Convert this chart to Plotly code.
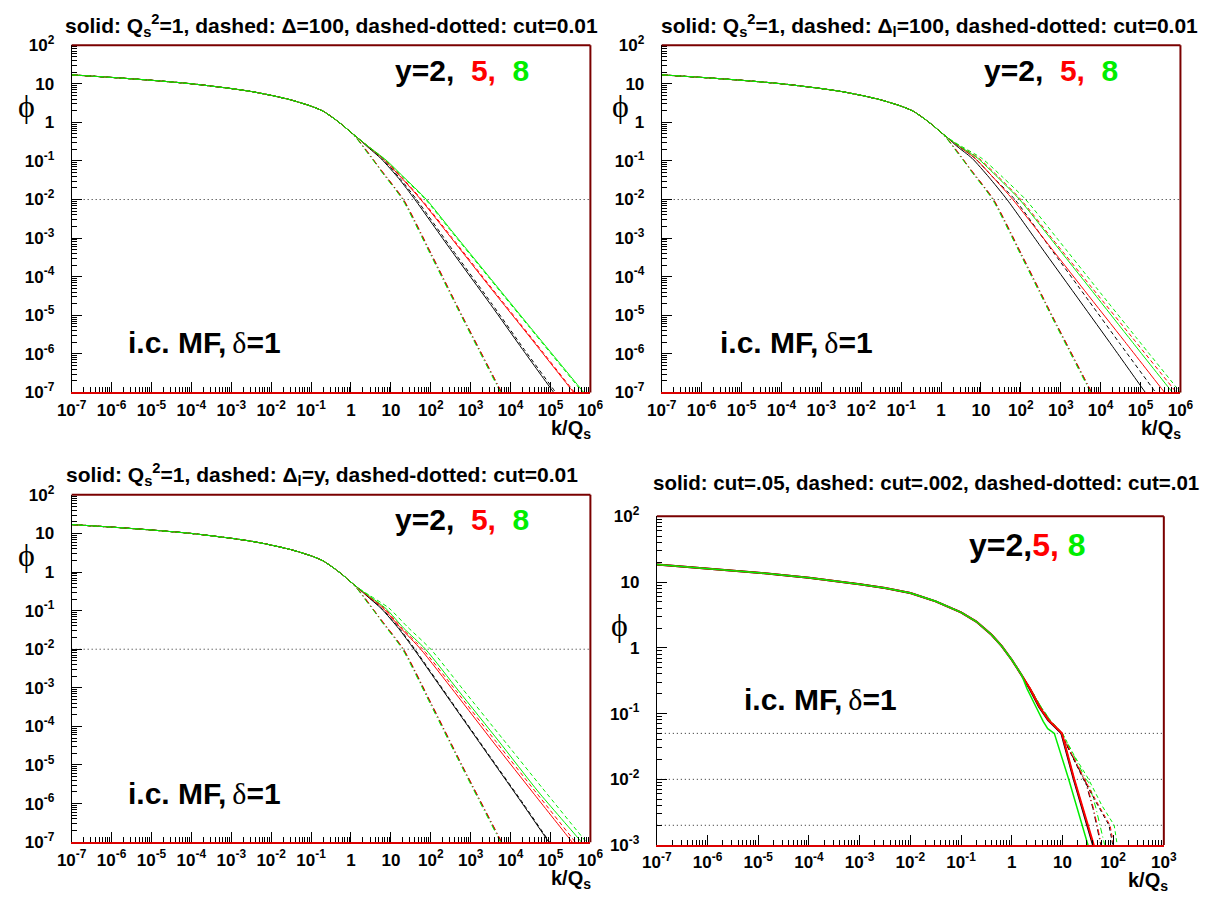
import plotly.graph_objects as go

W, H = 1212, 898

# ---------------- data ----------------
# common low-k part, panels 1-3
k_low = [1e-7, 1e-6, 1e-5, 1e-4, 1e-3, 3.16e-3, 1e-2, 0.0316, 0.1, 0.2, 0.4, 0.63, 1.0]
phi_low = [17.0, 14.6, 12.3, 10.0, 7.5, 6.3, 5.0, 3.8, 2.63, 1.95, 1.2, 0.83, 0.55]

# panel 1 tails
p1_blk_s_k = [1.58, 2.5, 5.8, 15.8, 40, 316, 3160, 2.0e4, 1.2e5, 2.0e5]
p1_blk_s_phi = [0.37, 0.24, 0.112, 0.035, 0.01, 5.0e-4, 1.9e-5, 1.3e-6, 1.0e-7, 4.8e-8]
p1_blk_d_k = [1.6, 2.6, 6.2, 17, 44, 350, 3500, 2.2e4, 1.35e5, 2.2e5]
p1_blk_d_phi = [0.37, 0.24, 0.112, 0.035, 0.01, 5.0e-4, 1.9e-5, 1.3e-6, 1.0e-7, 4.8e-8]
p1_red_s_k = [1.58, 2.5, 6.3, 17.8, 56, 316, 3160, 3.16e4, 3.8e5, 6.3e5]
p1_red_s_phi = [0.37, 0.25, 0.115, 0.038, 0.01, 1.05e-3, 5.1e-5, 2.6e-6, 1e-7, 5.1e-8]
p1_red_d_k = [1.6, 2.6, 6.6, 18.6, 59, 335, 3350, 3.35e4, 4.0e5, 6.6e5]
p1_red_d_phi = [0.37, 0.25, 0.115, 0.038, 0.01, 1.05e-3, 5.1e-5, 2.6e-6, 1e-7, 5.1e-8]
p1_grn_s_k = [1.6, 2.7, 7.6, 20, 78, 316, 3160, 3.16e4, 6.8e5, 1.12e6]
p1_grn_s_phi = [0.37, 0.24, 0.105, 0.04, 0.01, 1.66e-3, 8.9e-5, 4.8e-6, 1e-7, 5.2e-8]
p1_grn_d_k = [1.6, 2.65, 7.3, 19, 74, 300, 3000, 3.0e4, 6.4e5, 1.05e6]
p1_grn_d_phi = [0.37, 0.24, 0.105, 0.04, 0.01, 1.66e-3, 8.9e-5, 4.8e-6, 1e-7, 5.2e-8]
# dashed-dotted (cut = 0.01), shared by panels 1-3
dd_blk_k = [1.58, 2.5, 4.0, 6.3, 20.4, 100, 630, 5900, 8900]
dd_red_k = [1.6, 2.55, 4.05, 6.4, 20.8, 102, 640, 6000, 9000]
dd_grn_k = [1.55, 2.4, 3.9, 6.0, 19.5, 95, 600, 5600, 8500]
dd_phi = [0.33, 0.178, 0.093, 0.05, 0.01, 4.0e-4, 8.9e-6, 1e-7, 4.5e-8]

# panel 2 tails
p2_blk_s_k = [1.58, 2.5, 6.0, 15.8, 45, 316, 3160, 2.0e4, 1.32e5, 2.24e5]
p2_blk_s_phi = [0.37, 0.24, 0.117, 0.038, 0.01, 6.0e-4, 2.2e-5, 1.55e-6, 1e-7, 4.7e-8]
p2_blk_d_k = [1.6, 2.63, 7.1, 20, 71, 500, 5000, 3.16e4, 2.4e5, 4.0e5]
p2_blk_d_phi = [0.37, 0.25, 0.117, 0.038, 0.01, 6.3e-4, 2.4e-5, 1.74e-6, 1e-7, 4.9e-8]
p2_red_s_k = [1.6, 2.63, 7.1, 20, 63, 400, 4000, 4.0e4, 4.0e5, 7.1e5]
p2_red_s_phi = [0.37, 0.25, 0.117, 0.038, 0.01, 8.9e-4, 4.3e-5, 2.1e-6, 1e-7, 4.7e-8]
p2_red_d_k = [1.62, 2.8, 8.9, 28, 100, 630, 6300, 6.3e4, 7.9e5, 1.26e6]
p2_red_d_phi = [0.37, 0.25, 0.117, 0.038, 0.01, 9.3e-4, 4.9e-5, 2.6e-6, 1e-7, 5.5e-8]
p2_grn_s_k = [1.6, 2.75, 8.3, 26, 93, 630, 6300, 6.3e4, 6.3e5, 1.12e6]
p2_grn_s_phi = [0.37, 0.25, 0.117, 0.038, 0.01, 8.3e-4, 4.1e-5, 2.0e-6, 1e-7, 4.7e-8]
p2_grn_d_k = [1.65, 3.0, 10.5, 35, 132, 800, 7900, 7.9e4, 1.0e6, 1.58e6]
p2_grn_d_phi = [0.37, 0.25, 0.117, 0.038, 0.01, 1.0e-3, 5.1e-5, 2.6e-6, 1e-7, 5.5e-8]

# panel 3 tails
p3_blk_s_k = [1.58, 2.5, 5.8, 15.8, 38, 316, 3160, 2.0e4, 9.1e4, 1.58e5]
p3_blk_s_phi = [0.37, 0.24, 0.112, 0.034, 0.01, 4.4e-4, 1.48e-5, 9.8e-7, 1e-7, 4.5e-8]
p3_blk_d_k = [1.6, 2.55, 6.0, 16.6, 40, 330, 3300, 2.1e4, 9.5e4, 1.65e5]
p3_blk_d_phi = [0.37, 0.24, 0.112, 0.034, 0.01, 4.4e-4, 1.48e-5, 9.8e-7, 1e-7, 4.5e-8]
p3_red_s_k = [1.58, 2.5, 6.3, 17.8, 56, 400, 4000, 4.0e4, 3.5e5, 6.3e5]
p3_red_s_phi = [0.37, 0.25, 0.117, 0.035, 0.01, 7.6e-4, 3.5e-5, 1.7e-6, 1e-7, 4.6e-8]
p3_red_d_k = [1.6, 2.63, 6.8, 19, 63, 450, 4500, 4.5e4, 4.2e5, 7.1e5]
p3_red_d_phi = [0.37, 0.25, 0.117, 0.035, 0.01, 7.9e-4, 3.8e-5, 1.86e-6, 1e-7, 5.0e-8]
p3_grn_s_k = [1.6, 2.7, 7.6, 21, 74, 500, 5000, 5.0e4, 6.0e5, 1.0e6]
p3_grn_s_phi = [0.37, 0.25, 0.112, 0.035, 0.01, 8.3e-4, 4.2e-5, 2.0e-6, 1e-7, 5.1e-8]
p3_grn_d_k = [1.62, 2.9, 8.9, 26, 100, 630, 6300, 6.3e4, 7.9e5, 1.26e6]
p3_grn_d_phi = [0.37, 0.25, 0.117, 0.038, 0.01, 9.3e-4, 4.8e-5, 2.5e-6, 1e-7, 5.5e-8]

# panel 4
k4_low = [1e-7, 1e-6, 1e-5, 1e-4, 1e-3, 3.16e-3, 1e-2, 0.0316, 0.1, 0.2, 0.4, 0.63, 1.0, 1.58]
phi4_low = [18.5, 16.2, 13.9, 11.6, 9.3, 8.1, 6.8, 5.1, 3.47, 2.51, 1.58, 1.07, 0.66, 0.38]
p4_blk_s_k = [2.24, 3.47, 5.25, 7.08, 8.5, 9.55, 16.6, 39.8, 50]
p4_red_s_k = [2.29, 3.55, 5.37, 7.24, 8.7, 9.77, 17.0, 41, 52]
p4_s_phi = [0.24, 0.126, 0.079, 0.063, 0.055, 0.05, 0.0102, 1.02e-3, 5.6e-4]
p4_grn_s_k = [2.0, 3.02, 4.17, 5.13, 6.03, 6.92, 13.2, 32.4, 39.8]
p4_grn_s_phi = [0.24, 0.126, 0.076, 0.059, 0.054, 0.05, 0.0102, 1.02e-3, 5.6e-4]
p4_blk_d_k = [2.29, 3.63, 5.62, 9.33, 15.8, 25.7, 50, 83, 98, 105]
p4_red_d_k = [2.34, 3.72, 5.75, 9.55, 16.2, 26.9, 52, 87, 102, 110]
p4_grn_d_k = [2.34, 3.8, 6.0, 10, 17.4, 32.4, 60, 105, 120, 129]
p4_d_phi = [0.24, 0.126, 0.076, 0.05, 0.0224, 0.0102, 0.004, 0.002, 1.02e-3, 7.1e-4]
p4_blk_dd_k = [2.29, 3.63, 5.62, 9.33, 15.8, 25.7, 28.8, 40, 57.5, 63]
p4_red_dd_k = [2.34, 3.72, 5.75, 9.55, 16.2, 26.3, 29.5, 41, 59, 65]
p4_grn_dd_k = [2.34, 3.8, 6.0, 10, 17.4, 28.8, 33, 46, 67.6, 74]
p4_dd_phi = [0.24, 0.126, 0.076, 0.05, 0.0224, 0.0102, 0.0089, 3.6e-3, 1.02e-3, 7.1e-4]

cuts_p123 = [0.01]
cuts_p4 = [0.05, 0.01, 0.002]
k_range_p123 = [1e-7, 1e6]
k_range_p4 = [1e-7, 1e3]

# tick labels
k_ticks = [1e-7, 1e-6, 1e-5, 1e-4, 1e-3, 1e-2, 1e-1, 1, 10, 1e2, 1e3, 1e4, 1e5, 1e6]
k_ticktext = ["10<sup>-7</sup>", "10<sup>-6</sup>", "10<sup>-5</sup>", "10<sup>-4</sup>",
              "10<sup>-3</sup>", "10<sup>-2</sup>", "10<sup>-1</sup>", "1", "10",
              "10<sup>2</sup>", "10<sup>3</sup>", "10<sup>4</sup>", "10<sup>5</sup>",
              "10<sup>6</sup>"]
phi_ticks = [1e-7, 1e-6, 1e-5, 1e-4, 1e-3, 1e-2, 1e-1, 1, 10, 1e2]
phi_ticktext = ["10<sup>-7</sup>", "10<sup>-6</sup>", "10<sup>-5</sup>", "10<sup>-4</sup>",
                "10<sup>-3</sup>", "10<sup>-2</sup>", "10<sup>-1</sup>", "1", "10",
                "10<sup>2</sup>"]

titles = [
    "solid: Q<sub>s</sub><sup>2</sup>=1, dashed: Δ=100, dashed-dotted: cut=0.01",
    "solid: Q<sub>s</sub><sup>2</sup>=1, dashed: Δ<sub>l</sub>=100, dashed-dotted: cut=0.01",
    "solid: Q<sub>s</sub><sup>2</sup>=1, dashed: Δ<sub>l</sub>=y, dashed-dotted: cut=0.01",
    "solid: cut=.05, dashed: cut=.002, dashed-dotted: cut=.01",
]

# ---------------- styling ----------------
BLACK, RED, GREEN = "#000000", "#ff0000", "#00ee00"
DASH = "4px,3px"
DASHDOT = "6px,3px,1px,3px"
FONT = "Liberation Sans, Arial, sans-serif"
SERIF = "Liberation Serif, DejaVu Serif, serif"

# plot areas in pixels: (x0, x1, ytop, ybottom)
areas = [(58, 589, 34, 390), (662, 1193, 34, 390), (58, 589, 495, 851), (657, 1176, 517, 854)]
xr = [[-7, 6], [-7, 6], [-7, 6], [-7, 3]]
yr = [[-7, 2], [-7, 2], [-7, 2], [-3, 2]]

fig = go.Figure()


def ax_names(i):
    return ("x" if i == 0 else f"x{i+1}", "y" if i == 0 else f"y{i+1}")


def add(i, k, phi, color, dash="solid", width=1.0, smooth=True):
    xa, ya = ax_names(i)
    line = dict(color=color, dash=dash, width=width)
    if smooth:
        line.update(shape="spline", smoothing=0.6)
    fig.add_trace(go.Scatter(x=k, y=phi, mode="lines", xaxis=xa, yaxis=ya, line=line,
                             hoverinfo="skip", showlegend=False))


def add_cut(i, k, phi):
    xa, ya = ax_names(i)
    fig.add_trace(go.Scatter(x=k, y=phi, mode="lines", xaxis=xa, yaxis=ya,
                             line=dict(color="#222222", dash="1px,3px", width=1),
                             hoverinfo="skip", showlegend=False))


# cut lines
for i in range(3):
    for c in cuts_p123:
        add_cut(i, k_range_p123, [c, c])
for c in cuts_p4:
    add_cut(3, k_range_p4, [c, c])

# panel 1
add(0, k_low + dd_blk_k, phi_low + dd_phi, BLACK, DASHDOT)
add(0, k_low + dd_red_k, phi_low + dd_phi, RED, DASHDOT)
add(0, k_low + dd_grn_k, phi_low + dd_phi, GREEN, DASHDOT)
add(0, k_low + p1_blk_s_k, phi_low + p1_blk_s_phi, BLACK)
add(0, k_low + p1_blk_d_k, phi_low + p1_blk_d_phi, BLACK, DASH)
add(0, k_low + p1_red_s_k, phi_low + p1_red_s_phi, RED)
add(0, k_low + p1_red_d_k, phi_low + p1_red_d_phi, RED, DASH)
add(0, k_low + p1_grn_s_k, phi_low + p1_grn_s_phi, GREEN)
add(0, k_low + p1_grn_d_k, phi_low + p1_grn_d_phi, GREEN, DASH)

# panel 2
add(1, k_low + dd_blk_k, phi_low + dd_phi, BLACK, DASHDOT)
add(1, k_low + dd_red_k, phi_low + dd_phi, RED, DASHDOT)
add(1, k_low + dd_grn_k, phi_low + dd_phi, GREEN, DASHDOT)
add(1, k_low + p2_blk_s_k, phi_low + p2_blk_s_phi, BLACK)
add(1, k_low + p2_blk_d_k, phi_low + p2_blk_d_phi, BLACK, DASH)
add(1, k_low + p2_red_s_k, phi_low + p2_red_s_phi, RED)
add(1, k_low + p2_red_d_k, phi_low + p2_red_d_phi, RED, DASH)
add(1, k_low + p2_grn_s_k, phi_low + p2_grn_s_phi, GREEN)
add(1, k_low + p2_grn_d_k, phi_low + p2_grn_d_phi, GREEN, DASH)

# panel 3
add(2, k_low + dd_blk_k, phi_low + dd_phi, BLACK, DASHDOT)
add(2, k_low + dd_red_k, phi_low + dd_phi, RED, DASHDOT)
add(2, k_low + dd_grn_k, phi_low + dd_phi, GREEN, DASHDOT)
add(2, k_low + p3_blk_s_k, phi_low + p3_blk_s_phi, BLACK)
add(2, k_low + p3_blk_d_k, phi_low + p3_blk_d_phi, BLACK, DASH)
add(2, k_low + p3_red_s_k, phi_low + p3_red_s_phi, RED)
add(2, k_low + p3_red_d_k, phi_low + p3_red_d_phi, RED, DASH)
add(2, k_low + p3_grn_s_k, phi_low + p3_grn_s_phi, GREEN)
add(2, k_low + p3_grn_d_k, phi_low + p3_grn_d_phi, GREEN, DASH)

# panel 4 (kinks kept)
add(3, k4_low + p4_blk_dd_k, phi4_low + p4_dd_phi, BLACK, DASHDOT, 1, False)
add(3, k4_low + p4_red_dd_k, phi4_low + p4_dd_phi, RED, DASHDOT, 1, False)
add(3, k4_low + p4_grn_dd_k, phi4_low + p4_dd_phi, GREEN, DASHDOT, 1, False)
add(3, k4_low + p4_blk_d_k, phi4_low + p4_d_phi, BLACK, DASH, 1, False)
add(3, k4_low + p4_red_d_k, phi4_low + p4_d_phi, RED, DASH, 1, False)
add(3, k4_low + p4_grn_d_k, phi4_low + p4_d_phi, GREEN, DASH, 1, False)
add(3, k4_low + p4_blk_s_k, phi4_low + p4_s_phi, BLACK, "solid", 2, False)
add(3, k4_low + p4_red_s_k, phi4_low + p4_s_phi, RED, "solid", 2, False)
add(3, k4_low + p4_grn_s_k, phi4_low + p4_grn_s_phi, GREEN, "solid", 1.5, False)

tickfont = dict(family=FONT, size=17, color="black", weight="bold")
layout = dict(width=W, height=H, margin=dict(l=0, r=0, t=0, b=0),
              paper_bgcolor="white", plot_bgcolor="white", showlegend=False)
shapes = []
for i, (x0, x1, yt, yb) in enumerate(areas):
    xkey = "xaxis" if i == 0 else f"xaxis{i+1}"
    ykey = "yaxis" if i == 0 else f"yaxis{i+1}"
    xa, ya = ax_names(i)
    common = dict(type="log", showgrid=False, zeroline=False,
                  ticks="inside", ticklen=10, tickwidth=1, tickcolor="black",
                  minor=dict(ticks="inside", ticklen=5, tickwidth=1, tickcolor="black",
                             dtick="D1", showgrid=False),
                  tickfont=tickfont, showline=True, tickangle=0)
    layout[xkey] = dict(common, domain=[x0 / W, x1 / W], range=xr[i], anchor=ya,
                        tickmode="array", tickvals=k_ticks, ticktext=k_ticktext,
                        linecolor="#dd0000", linewidth=2, ticklabelstandoff=1)
    layout[ykey] = dict(common, domain=[1 - yb / H, 1 - yt / H], range=yr[i], anchor=xa,
                        tickmode="array", tickvals=phi_ticks, ticktext=phi_ticktext,
                        linecolor="black", linewidth=1, ticklabelstandoff=13)
    shapes.append(dict(type="line", xref=f"{xa} domain", yref=f"{ya} domain",
                       x0=0, x1=1, y0=1, y1=1, line=dict(color="#7a0000", width=2)))
    shapes.append(dict(type="line", xref=f"{xa} domain", yref=f"{ya} domain",
                       x0=1, x1=1, y0=0, y1=1, line=dict(color="#7a0000", width=2)))
layout["shapes"] = shapes
fig.update_layout(**layout)


def P(px, py):
    return px / W, 1 - py / H


def text(px, py, s, size, xanchor="center", family=FONT, color="black", weight="bold"):
    x, y = P(px, py)
    fig.add_annotation(x=x, y=y, xref="paper", yref="paper", text=s, showarrow=False,
                       xanchor=xanchor, yanchor="middle",
                       font=dict(family=family, size=size, color=color, weight=weight))


# titles
text(324, 14, titles[0], 21)
text(936, 14, titles[1], 21)
text(314, 474, titles[2], 21)
text(933, 482, titles[3], 20.5)

# y labels
yl = "<span style='color:red'>5,</span>"
gl = "<span style='color:#00ee00'>8</span>"
text(387, 60, "y=2,\u00a0\u00a0" + yl + "\u00a0\u00a0" + gl, 30, "left")
text(990, 60, "y=2,\u00a0\u00a0" + yl + "\u00a0\u00a0" + gl, 30, "left")
text(387, 520, "y=2,\u00a0\u00a0" + yl + "\u00a0\u00a0" + gl, 30, "left")
text(975, 546, "y=2," + yl + "\u00a0" + gl, 32, "left")

# i.c. labels
ic = ("i.c. MF,\u2009<span style='font-family:Liberation Serif, DejaVu Serif, serif;"
      "font-weight:normal'>δ</span>=1")
text(274, 339, ic, 30, "right")
text(880, 339, ic, 30, "right")
text(274, 801, ic, 30, "right")
text(905, 705, ic, 30, "right")

# phi axis titles
for (px, py) in [(12, 96), (620, 96), (12, 557), (619, 628)]:
    text(px, py, "ϕ", 32, "center", SERIF, "black", "normal")

# k/Qs axis titles
kq = "k/Q<sub>s</sub>"
text(592, 428, kq, 20, "right")
text(1196, 428, kq, 20, "right")
text(592, 889, kq, 20, "right")
text(1182, 891, kq, 20, "right")

fig.write_html("out.html")
